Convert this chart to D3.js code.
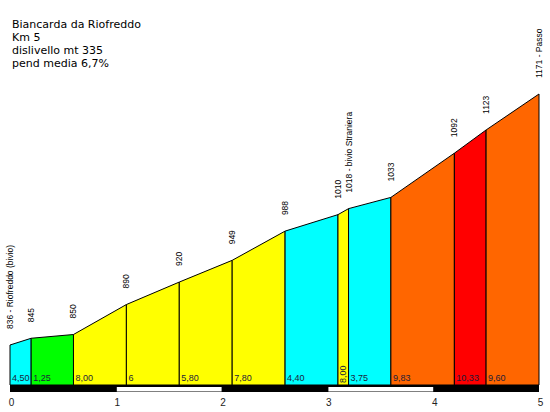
<!DOCTYPE html>
<html>
<head>
    <meta charset="utf-8">
    <title>Biancarda da Riofreddo</title>
    <script src="https://d3js.org/d3.v7.min.js"></script>
    <style>
        html, body { margin: 0; padding: 0; background: white; }
        svg { display: block; }
    </style>
</head>
<body>
    <div id="chart"></div>
    <script>
        // Climb profile data
        const titleLines = ["Biancarda da Riofreddo", "Km 5", "dislivello mt 335", "pend media 6,7%"];
        const km = [0, 0.2, 0.6, 1.1, 1.6, 2.1, 2.6, 3.1, 3.2, 3.6, 4.2, 4.5, 5];
        const elevation = [836, 845, 850, 890, 920, 949, 988, 1010, 1018, 1033, 1092, 1123, 1171];
        const pointLabels = ["836 - Riofreddo (bivio)", "845", "850", "890", "920", "949", "988",
            "1010", "1018 - bivio Straniera", "1033", "1092", "1123", "1171 - Passo"];
        const slopeLabels = ["4,50", "1,25", "8,00", "6", "5,80", "7,80", "4,40", "8,00", "3,75", "9,83", "10,33", "9,60"];
        const kmTicks = [0, 1, 2, 3, 4, 5];

        const W = 550, H = 412;
        const baseY = 385;

        const svg = d3.select("#chart").append("svg")
            .attr("width", W)
            .attr("height", H);

        const x = d3.scaleLinear().domain([0, 5]).range([10, 539]);
        const y = d3.scaleLinear().domain([836, 1171]).range([345, 94]);

        // slope colour bands
        const color = d3.scaleThreshold()
            .domain([2, 5, 9, 10])
            .range(["#00ff00", "#00ffff", "#ffff00", "#ff6600", "#ff0000"]);

        const segments = slopeLabels.map((s, i) => ({
            x0: km[i], x1: km[i + 1], e0: elevation[i], e1: elevation[i + 1],
            label: s, slope: parseFloat(s.replace(",", "."))
        }));

        // segment polygons
        svg.append("g").selectAll("path")
            .data(segments)
            .join("path")
            .attr("d", d => `M${x(d.x0)},${baseY}L${x(d.x0)},${y(d.e0)}L${x(d.x1)},${y(d.e1)}L${x(d.x1)},${baseY}Z`)
            .attr("fill", d => color(d.slope))
            .attr("stroke", "#000")
            .attr("stroke-width", 1);

        // slope labels
        svg.append("g").selectAll("text")
            .data(segments)
            .join("text")
            .attr("transform", d => {
                const narrow = x(d.x1) - x(d.x0) < 20;
                return narrow
                    ? `translate(${(x(d.x0) + x(d.x1)) / 2 + 3},${baseY - 2}) rotate(-90)`
                    : `translate(${x(d.x0) + 2},${baseY - 4})`;
            })
            .attr("font-family", "Liberation Sans, Arial, sans-serif")
            .attr("font-size", "9px")
            .attr("fill", "#1c1c3a")
            .text(d => d.label);

        // elevation labels (vertical)
        svg.append("g").selectAll("text")
            .data(km.map((k, i) => ({ k, e: elevation[i], label: pointLabels[i] })))
            .join("text")
            .attr("transform", d => `translate(${x(d.k) + 3},${y(d.e) - 16}) rotate(-90)`)
            .attr("font-family", "Liberation Sans, Arial, sans-serif")
            .attr("font-size", "8.5px")
            .attr("fill", "#000")
            .text(d => d.label);

        // km bar
        svg.append("rect")
            .attr("x", x(0)).attr("y", baseY)
            .attr("width", x(5) - x(0)).attr("height", 7)
            .attr("fill", "#000");

        svg.append("g").selectAll("rect")
            .data([1, 3])
            .join("rect")
            .attr("x", d => x(d) + 1)
            .attr("y", baseY + 2)
            .attr("width", d => x(d + 1) - x(d) - 1)
            .attr("height", 4.5)
            .attr("fill", "#fff");

        // km axis labels
        const axis = svg.append("g")
            .attr("transform", `translate(1,${baseY + 10})`)
            .call(d3.axisBottom(x).tickValues(kmTicks).tickSize(0).tickPadding(4).tickFormat(d3.format("d")));
        axis.select(".domain").remove();
        axis.selectAll("text")
            .attr("font-family", "Liberation Sans, Arial, sans-serif")
            .attr("font-size", "10px")
            .attr("fill", "#222");

        // title block
        svg.append("g").selectAll("text")
            .data(titleLines)
            .join("text")
            .attr("x", 12)
            .attr("y", (d, i) => 27.5 + i * 13.2)
            .attr("font-family", "DejaVu Sans, Verdana, sans-serif")
            .attr("font-size", "11px")
            .attr("fill", "#000")
            .text(d => d);
    </script>
</body>
</html>
